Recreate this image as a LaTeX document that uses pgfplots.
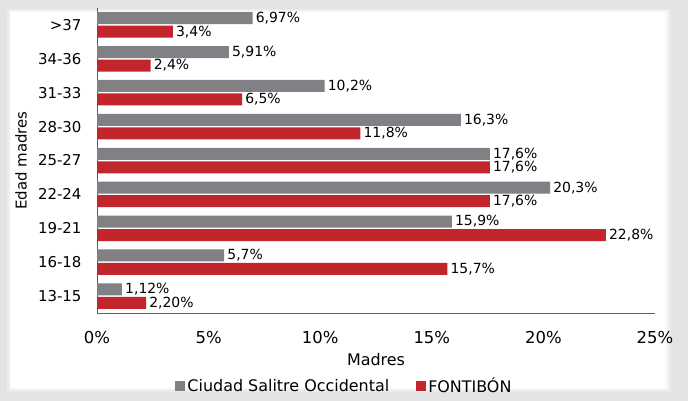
\documentclass[border=0pt]{standalone}
\usepackage{fontspec}
\setmainfont{DejaVu Sans}
\usepackage{pgfplots}
\usepackage{pgfplotstable}
\pgfplotsset{compat=1.18}

\definecolor{bargray}{RGB}{128,128,133}
\definecolor{barred}{RGB}{193,38,45}
\definecolor{bgout}{RGB}{228,228,228}
\definecolor{axisgray}{RGB}{95,95,95}

\newcommand{\chartfont}{\fontsize{15}{18}\selectfont}
\newcommand{\tickfont}{\fontsize{16.5}{19}\selectfont}
\newcommand{\legfont}{\fontsize{16}{19}\selectfont}
\newcommand{\valfont}{\fontsize{14}{16}\selectfont}

% 0 = 13-15 ... 8 = >37
\pgfplotstableread{
y val lab
0 1.12 1,12\%
1 5.7  5,7\%
2 15.9 15,9\%
3 20.3 20,3\%
4 17.6 17,6\%
5 16.3 16,3\%
6 10.2 10,2\%
7 5.91 5,91\%
8 6.97 6,97\%
}\ciudad

\pgfplotstableread{
y val lab
0 2.20 2,20\%
1 15.7 15,7\%
2 22.8 22,8\%
3 17.6 17,6\%
4 17.6 17,6\%
5 11.8 11,8\%
6 6.5  6,5\%
7 2.4  2,4\%
8 3.4  3,4\%
}\fontibon

\begin{document}
\begin{tikzpicture}
% panel background
\fill[bgout] (0,0) rectangle (688bp,401bp);
\fill[black!8] (7bp,9bp) rectangle (671bp,392bp);
\fill[black!5] (8.5bp,10.5bp) rectangle (669bp,390.5bp);
\fill[black!2] (10bp,11.5bp) rectangle (667bp,389.5bp);
\fill[white] (11bp,12.5bp) rectangle (665bp,388.5bp);

\begin{axis}[
    at={(97bp,88bp)}, anchor=south west,
    width=558bp, height=305bp, scale only axis,
    xbar, bar width=12bp,
    xmin=0, xmax=25,
    ymin=-0.5, ymax=8.5,
    xtick={0,5,10,15,20,25},
    xticklabels={0\%,5\%,10\%,15\%,20\%,25\%},
    ytick={0,1,2,3,4,5,6,7,8},
    yticklabels={13-15,16-18,19-21,22-24,25-27,28-30,31-33,34-36,>37},
    axis x line*=bottom, axis y line*=left,
    axis line style={axisgray, line width=0.9pt},
    major tick length=0pt,
    yticklabel style={font=\chartfont, anchor=east, xshift=-12bp},
    xticklabel style={font=\tickfont, anchor=center, yshift=-25bp},
    xlabel={Madres},
    ylabel={Edad madres},
    xlabel style={font=\legfont, at={(axis description cs:0.5,-0.154)}, anchor=center},
    ylabel style={font=\chartfont, at={(axis description cs:-0.136,0.5)}, anchor=center},
    nodes near coords,
    point meta=explicit symbolic,
    nodes near coords style={font=\valfont, anchor=west, inner sep=3bp, text=black},
    legend columns=2,
    legend style={at={(axis description cs:0.4435,-0.239)}, anchor=center,
        draw=none, fill=none, font=\legfont,
        /tikz/every even column/.append style={column sep=25bp}},
    legend image code/.code={\fill[#1,draw=none] (0bp,-5bp) rectangle (10bp,5bp);},
]
\addplot[fill=bargray, draw=none, bar shift=6.75bp] table[x=val, y=y, meta=lab] {\ciudad};
\addlegendentry{Ciudad Salitre Occidental}
\addplot[fill=barred, draw=none, bar shift=-6.75bp] table[x=val, y=y, meta=lab] {\fontibon};
\addlegendentry{FONTIBÓN}
\end{axis}
\pgfresetboundingbox
\useasboundingbox (0,0) rectangle (688bp,401bp);
\end{tikzpicture}
\end{document}
